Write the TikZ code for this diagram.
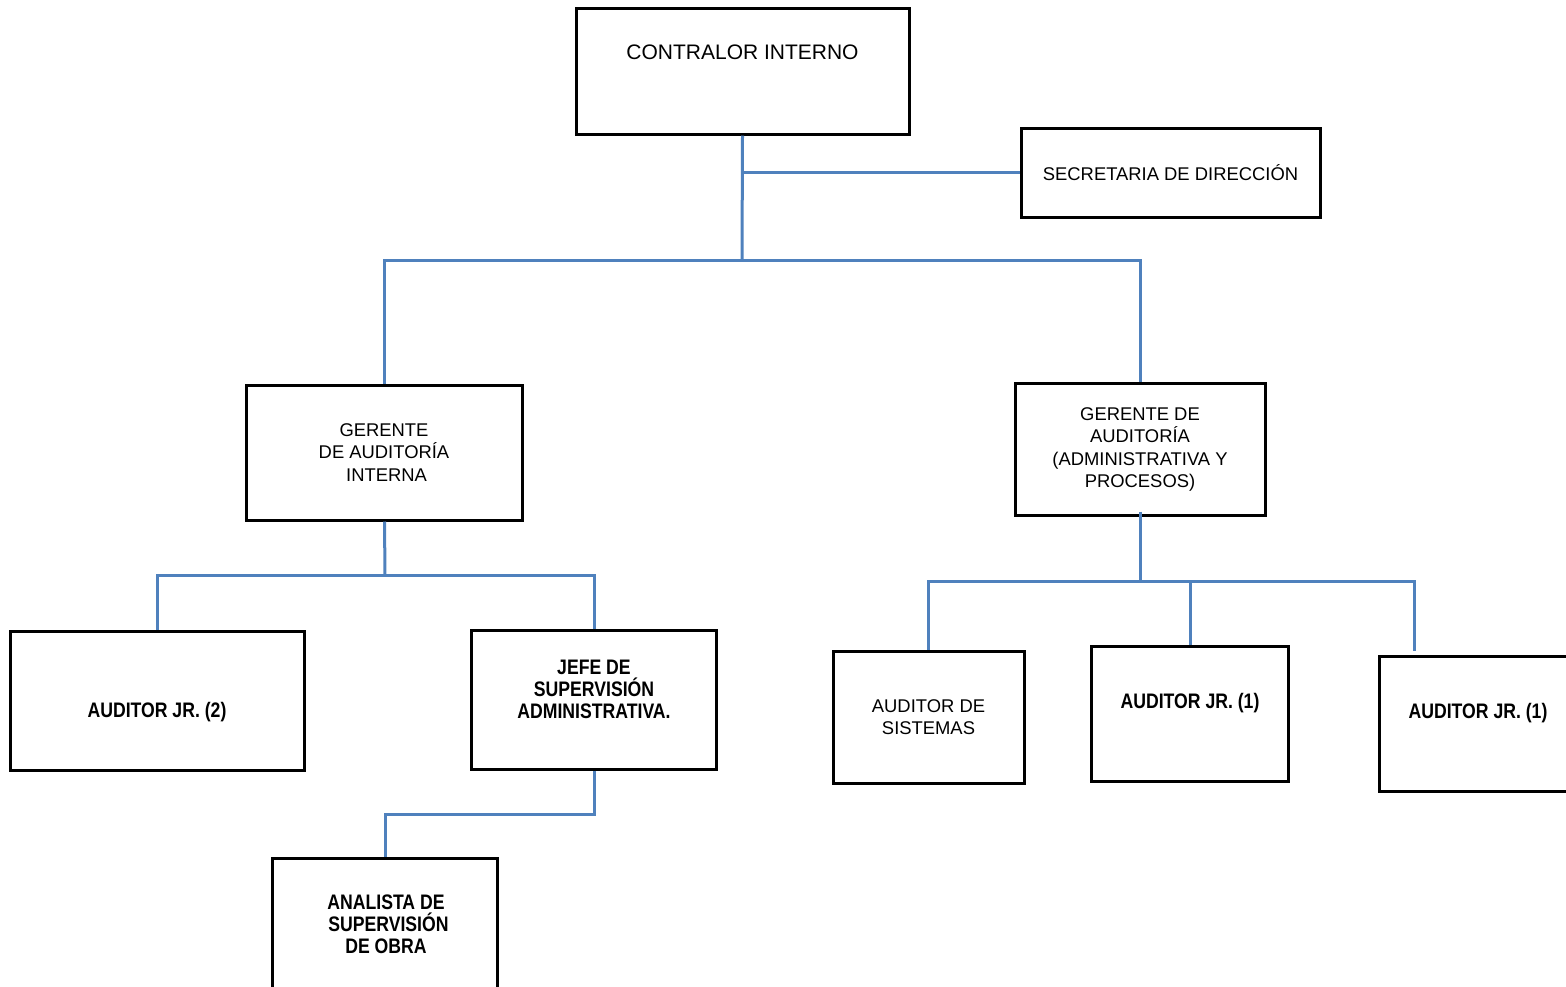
\documentclass[tikz,border=0pt]{standalone}
\usepackage{fontspec}
\setmainfont{Liberation Sans}
\newfontfamily\nbf{Liberation Sans}[FakeStretch=0.84]
\definecolor{conn}{HTML}{4F81BD}
\begin{document}
\begin{tikzpicture}[x=1pt,y=-1pt,
  box/.style={draw=black,line width=3pt,inner sep=0pt,fill=white},
  lbl/.style={align=center,font=\fontsize{18.4}{22.5}\selectfont,inner sep=0pt},
  blbl/.style={align=center,font=\nbf\bfseries\fontsize{21}{22}\selectfont,inner sep=0pt},
  link/.style={draw=conn,line width=3pt}]
\useasboundingbox (0,0) rectangle (1566,986);
\clip (0,0) rectangle (1566,986);
\coordinate (h0) at (742,260);
\coordinate (h1) at (385,575);
\coordinate (h2) at (1140,581);
\coordinate (jr) at (1414,651);
% boxes
\node[box,minimum width=333pt,minimum height=126pt] (c1) at (742.5,71) {};
\node[box,minimum width=299pt,minimum height=89pt] (sec) at (1170.5,172.5) {};
\node[box,minimum width=276pt,minimum height=135pt] (g1) at (384.5,452.5) {};
\node[box,minimum width=250pt,minimum height=132pt] (g2) at (1140,449) {};
\node[box,minimum width=294pt,minimum height=139pt] (a2) at (157,700.5) {};
\node[box,minimum width=245pt,minimum height=139pt] (jefe) at (594,699.5) {};
\node[box,minimum width=225pt,minimum height=150pt] (an) at (385,933) {};
\node[box,minimum width=191pt,minimum height=132pt] (sist) at (928.5,717) {};
\node[box,minimum width=197pt,minimum height=135pt] (j1m) at (1190,713.5) {};
\node[box,minimum width=200pt,minimum height=135pt] (j1r) at (1479,723.5) {};
% texts
\node[font=\fontsize{21}{25}\selectfont,inner sep=0pt] (t1) at (742.5,52) {CONTRALOR INTERNO};
\node[lbl] (t2) at (1170.5,173) {SECRETARIA DE DIRECCIÓN};
\node[lbl] (t3) at (384,452.5) {GERENTE\\DE AUDITORÍA\\\ INTERNA};
\node[lbl] (t4) at (1140,449.5) {GERENTE DE\\AUDITORÍA\\(ADMINISTRATIVA Y\\PROCESOS)};
\node[blbl] (t5) at (157,712) {AUDITOR JR. (2)};
\node[blbl] (t6) at (594,689) {JEFE DE\\SUPERVISIÓN\\ADMINISTRATIVA.};
\node[blbl] (t7) at (386,924) {ANALISTA DE\\\ SUPERVISIÓN\\DE OBRA};
\node[lbl] (t8) at (928.5,717) {AUDITOR DE\\SISTEMAS};
\node[blbl] (t9) at (1190,703) {AUDITOR JR. (1)};
\node[blbl] (t10) at (1478,713) {AUDITOR JR. (1)};
% links
\draw[link] (c1.south) -- (h0);
\draw[link] (c1.south |- sec.west) -- (sec.west);
\draw[link] (h0) -- (h0 -| g1.north) -- (g1.north);
\draw[link] (h0) -- (h0 -| g2.north) -- (g2.north);
\draw[link] (g1.south) -- (h1);
\draw[link] (h1) -- (h1 -| a2.north) -- (a2.north);
\draw[link] (h1) -- (h1 -| jefe.north) -- (jefe.north);
\draw[link] (jefe.south) -- ([yshift=-44pt]jefe.south) -| (an.north);
\draw[link] ([yshift=5pt]g2.south) -- (h2);
\draw[link] (h2) -- (h2 -| sist.north) -- (sist.north);
\draw[link] (h2) -- (h2 -| j1m.north) -- (j1m.north);
\draw[link] (h2) -- (h2 -| jr) -- (jr);
\end{tikzpicture}
\end{document}
